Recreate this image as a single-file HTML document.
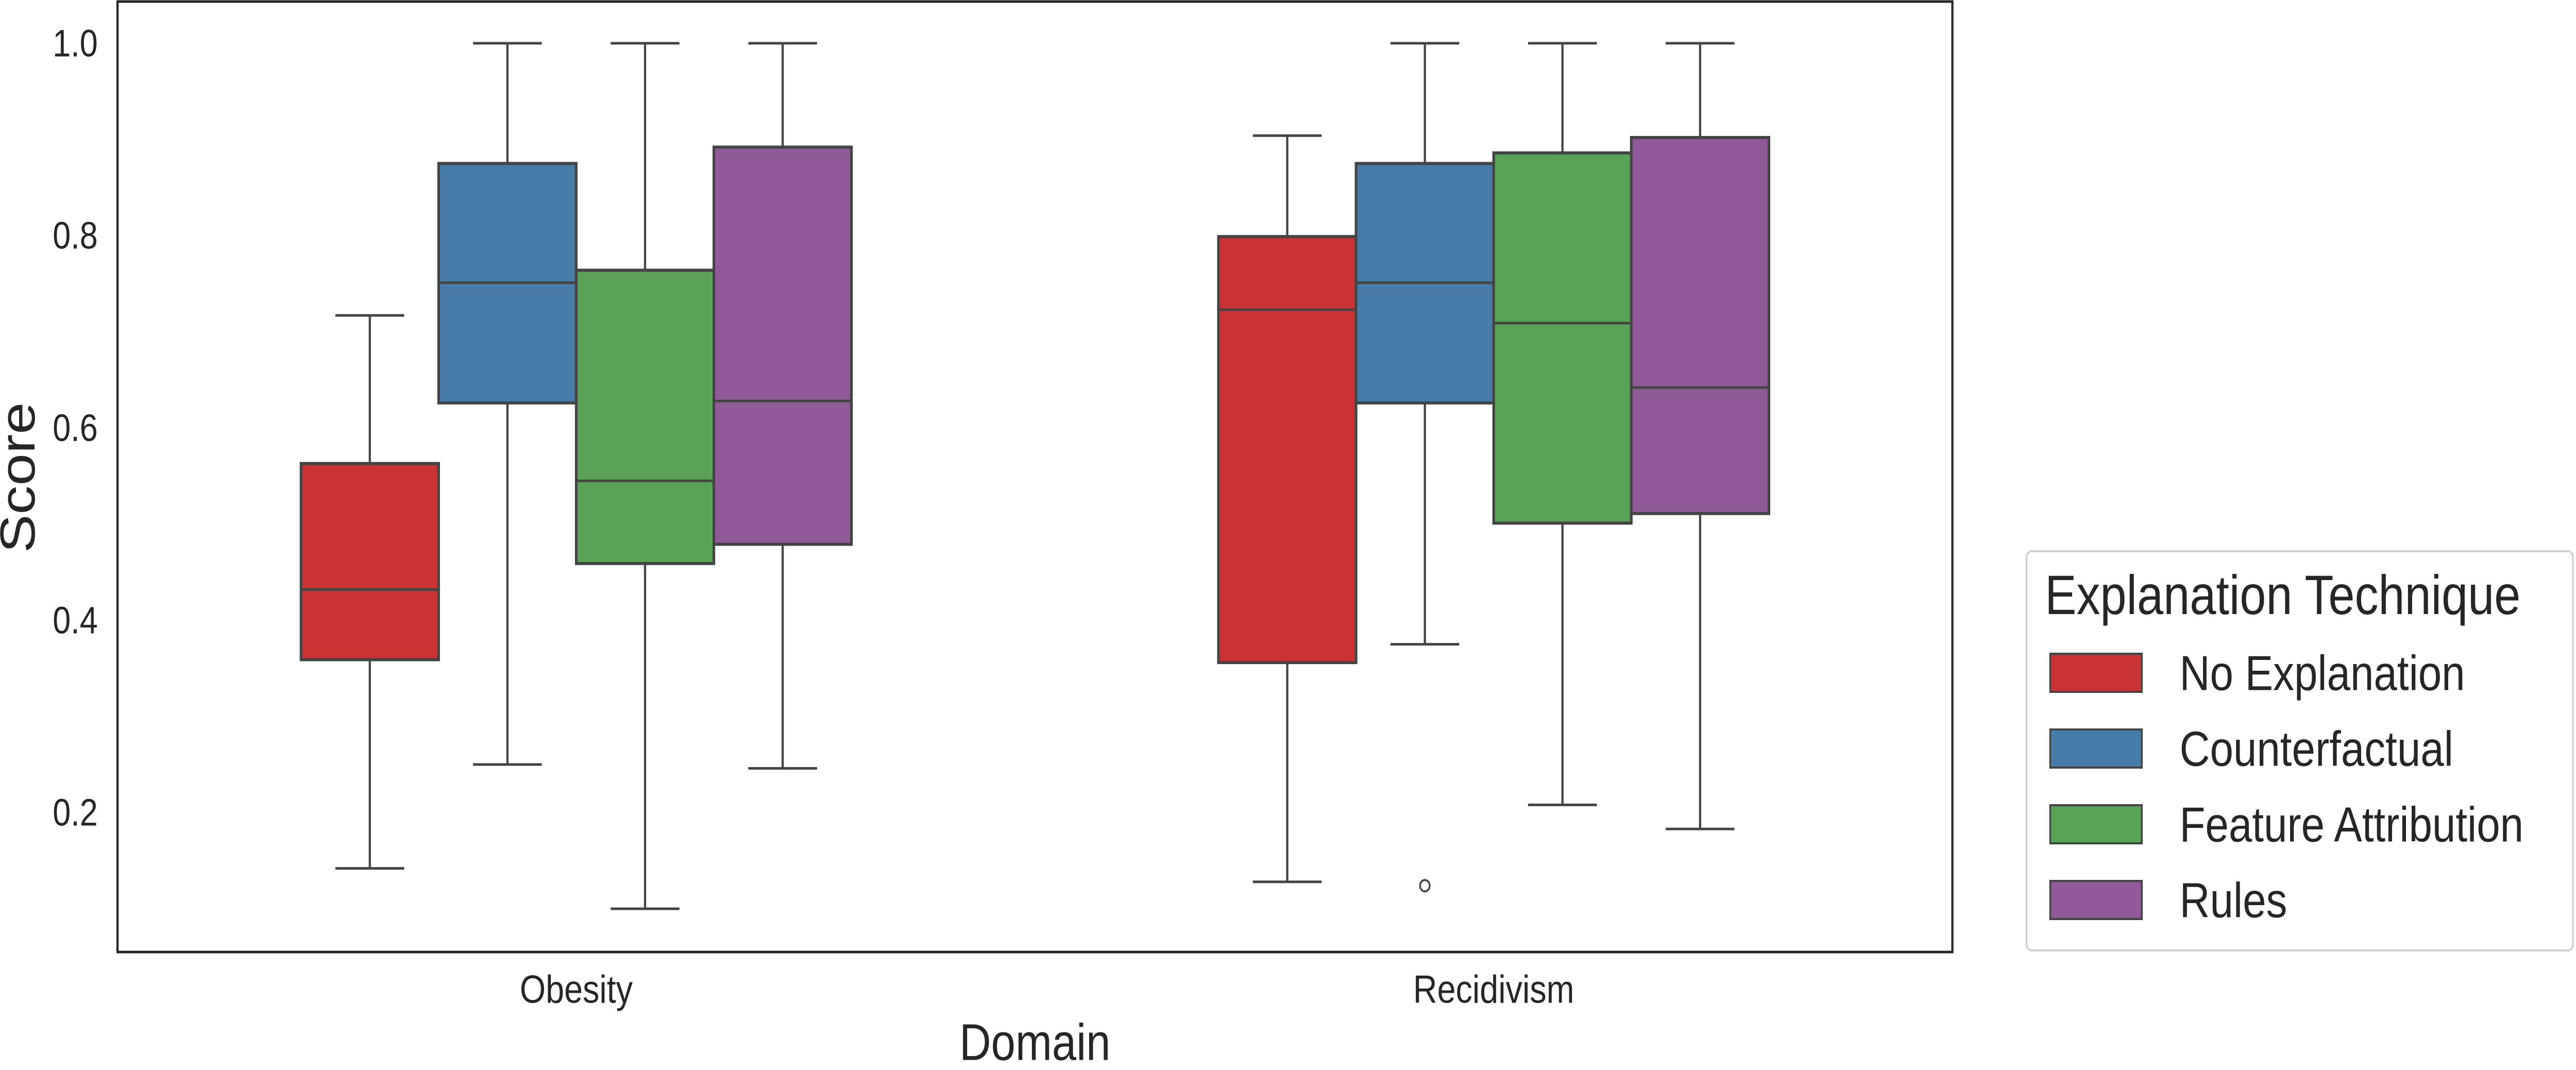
<!DOCTYPE html>
<html><head><meta charset="utf-8"><style>
html,body{margin:0;padding:0;background:#fff;width:100vw;height:100vh;overflow:hidden;}
svg{display:block;width:100vw;height:100vh;font-family:"Liberation Sans",Arial,sans-serif;}
</style></head><body>
<svg id="chart" viewBox="0 0 5874 2077" preserveAspectRatio="none" xmlns="http://www.w3.org/2000/svg">
<rect x="0" y="0" width="5874" height="2077" fill="#fff"/>
<g id="plot"></g>
<rect x="268" y="3" width="4184" height="1845" fill="none" stroke="#262626" stroke-width="5"/>
<text x="41" y="927" font-size="112" fill="#262626" text-anchor="middle" dominant-baseline="central" transform="rotate(-90 41 927)">Score</text>
<text x="2360" y="2023" font-size="100" fill="#262626" text-anchor="middle" dominant-baseline="central">Domain</text>
<g>
<rect x="4621" y="1070" width="1246" height="775" rx="12" fill="#fff" stroke="#d0d0d0" stroke-width="4"/>
<text x="4663" y="1192" font-size="108" fill="#262626">Explanation Technique</text>
<g id="legend-entries"></g>
</g>
</svg>
<script>
const categories = ["Obesity", "Recidivism"];
const series = ["No Explanation", "Counterfactual", "Feature Attribution", "Rules"];
const colors = ["#ca3336", "#477ca8", "#59a257", "#905998"];
// [low whisker, Q1, median, Q3, high whisker] per series per category
const obesityStats = [
  [0.142, 0.359, 0.432, 0.563, 0.717],
  [0.250, 0.626, 0.751, 0.875, 1.0],
  [0.100, 0.459, 0.545, 0.764, 1.0],
  [0.246, 0.479, 0.628, 0.892, 1.0]
];
const recidivismStats = [
  [0.128, 0.356, 0.723, 0.799, 0.904],
  [0.375, 0.626, 0.751, 0.875, 1.0],
  [0.208, 0.501, 0.709, 0.886, 1.0],
  [0.183, 0.511, 0.642, 0.902, 1.0]
];
const outliers = [[], [], [], []];
const outliersRec = [[], [0.124], [], []];
const yTicks = [0.2, 0.4, 0.6, 0.8, 1.0];
const yTickLabels = ["0.2", "0.4", "0.6", "0.8", "1.0"];

const NS = "http://www.w3.org/2000/svg";
const L = 268, R = 4452, T = 0, B = 1848;
const yMin = 0.055, yMax = 1.045;
function y(v){ return B - (v - yMin) / (yMax - yMin) * (B - T); }
function xCat(i){ return L + (i + 0.5) * (R - L) / categories.length; }
const unit = (R - L) / categories.length;
const boxW = unit * 0.15;
function mk(tag, attrs, parent){
  const e = document.createElementNS(NS, tag);
  for (const k in attrs) e.setAttribute(k, attrs[k]);
  parent.appendChild(e);
  return e;
}
const plot = document.getElementById("plot");
const svg = document.getElementById("chart");
const line = "#444444";
const allStats = [obesityStats, recidivismStats];
const allOut = [outliers, outliersRec];

yTicks.forEach((t, i) => {
  const tx = mk("text", {x: 223, y: y(t), "font-size": 74, fill: "#262626", "text-anchor": "end", "dominant-baseline": "central"}, svg);
  
  
  tx.textContent = yTickLabels[i];
});
categories.forEach((c, ci) => {
  const tx = mk("text", {x: xCat(ci), y: 1920, "font-size": 76, fill: "#262626", "text-anchor": "middle", "dominant-baseline": "central"}, svg);
  
  
  tx.textContent = c;
  allStats[ci].forEach((s, si) => {
    const cx = xCat(ci) + (si - 1.5) * boxW;
    const g = mk("g", {}, plot);
    
    
    const cap = boxW * 0.25;
    mk("line", {x1: cx, x2: cx, y1: y(s[4]), y2: y(s[3]), stroke: line, "stroke-width": 5}, g);
    mk("line", {x1: cx, x2: cx, y1: y(s[1]), y2: y(s[0]), stroke: line, "stroke-width": 5}, g);
    mk("line", {x1: cx - cap, x2: cx + cap, y1: y(s[4]), y2: y(s[4]), stroke: line, "stroke-width": 5}, g);
    mk("line", {x1: cx - cap, x2: cx + cap, y1: y(s[0]), y2: y(s[0]), stroke: line, "stroke-width": 5}, g);
    mk("rect", {x: cx - boxW / 2, y: y(s[3]), width: boxW, height: y(s[1]) - y(s[3]), fill: colors[si], stroke: line, "stroke-width": 6}, g);
    mk("line", {x1: cx - boxW / 2, x2: cx + boxW / 2, y1: y(s[2]), y2: y(s[2]), stroke: line, "stroke-width": 5}, g);
    allOut[ci][si].forEach(o => {
      const p = mk("circle", {cx: cx, cy: y(o), r: 11, fill: "none", stroke: line, "stroke-width": 4}, g);
      
      
    });
  });
});
const le = document.getElementById("legend-entries");
series.forEach((s, i) => {
  const top = 1269 + i * 147;
  const r = mk("rect", {x: 4675, y: top, width: 209, height: 74, fill: colors[i], stroke: line, "stroke-width": 4}, le);
  
  
  const t = mk("text", {x: 4970, y: top + 37, "font-size": 96, fill: "#262626", "dominant-baseline": "central"}, le);
  
  
  t.textContent = s;
});
</script>
</body></html>
